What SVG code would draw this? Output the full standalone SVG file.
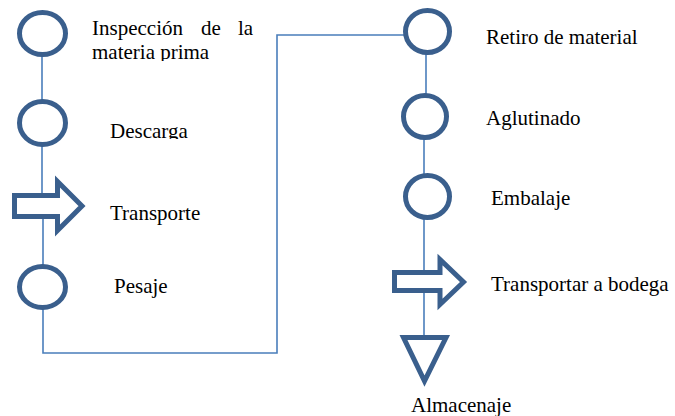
<svg xmlns="http://www.w3.org/2000/svg" width="675" height="416" viewBox="0 0 675 416">
  <style>
    .link { fill: none; stroke: #4a7ebb; stroke-width: 1.6; }
    .shape { fill: #ffffff; stroke: #3a5f8d; stroke-width: 5; stroke-linejoin: miter; }
    .label { font-family: 'Liberation Serif', 'DejaVu Serif', serif; font-size: 21px; fill: #000000; }
  </style>
  <defs>
    <clipPath id="clip-materia"><rect x="80" y="38" width="200" height="23"/></clipPath>
    <clipPath id="clip-descarga"><rect x="100" y="110" width="120" height="29"/></clipPath>
  </defs>

  <!-- connectors -->
  <g id="connectors">
    <line class="link" x1="42" y1="55" x2="42" y2="101"/>
    <line class="link" x1="42" y1="145" x2="42" y2="196"/>
    <polyline class="link" points="43,216 43,353 277,353 277,35 405,35"/>
    <line class="link" x1="426" y1="53" x2="426" y2="95"/>
    <line class="link" x1="424" y1="138" x2="424" y2="175"/>
    <line class="link" x1="424" y1="218" x2="424" y2="340"/>
  </g>

  <!-- left column -->
  <g id="inspeccion">
    <ellipse class="shape" cx="42.5" cy="33.5" rx="23" ry="21"/>
    <text class="label" x="92" y="35">Inspección</text>
    <text class="label" x="201" y="35">de</text>
    <text class="label" x="238" y="35">la</text>
    <text class="label" x="92" y="59" clip-path="url(#clip-materia)">materia prima</text>
  </g>
  <g id="descarga">
    <ellipse class="shape" cx="42.5" cy="123" rx="23" ry="21.5"/>
    <text class="label" x="110" y="138" clip-path="url(#clip-descarga)">Descarga</text>
  </g>
  <g id="transporte">
    <path class="shape" d="M14.5,195.5 H57.5 V181.5 L82,206 L57.5,230.5 V216.5 H14.5 Z"/>
    <text class="label" x="110" y="220">Transporte</text>
  </g>
  <g id="pesaje">
    <ellipse class="shape" cx="42.5" cy="287" rx="23" ry="20.5"/>
    <text class="label" x="114" y="293">Pesaje</text>
  </g>

  <!-- right column -->
  <g id="retiro">
    <ellipse class="shape" cx="427.5" cy="31.5" rx="22" ry="21"/>
    <text class="label" x="486" y="44">Retiro de material</text>
  </g>
  <g id="aglutinado">
    <ellipse class="shape" cx="425" cy="116.5" rx="21.5" ry="21"/>
    <text class="label" x="486" y="125">Aglutinado</text>
  </g>
  <g id="embalaje">
    <ellipse class="shape" cx="427.5" cy="196.5" rx="22" ry="21"/>
    <text class="label" x="491" y="205">Embalaje</text>
  </g>
  <g id="transportar">
    <path class="shape" d="M394.5,272.5 H440 V259.5 L463.5,282 L440,304.5 V290.5 H394.5 Z"/>
    <text class="label" x="491" y="291">Transportar a bodega</text>
  </g>
  <g id="almacenaje">
    <path class="shape" d="M403.5,337.5 H446 L424.5,381 Z"/>
    <text class="label" x="411" y="412">Almacenaje</text>
  </g>
</svg>
